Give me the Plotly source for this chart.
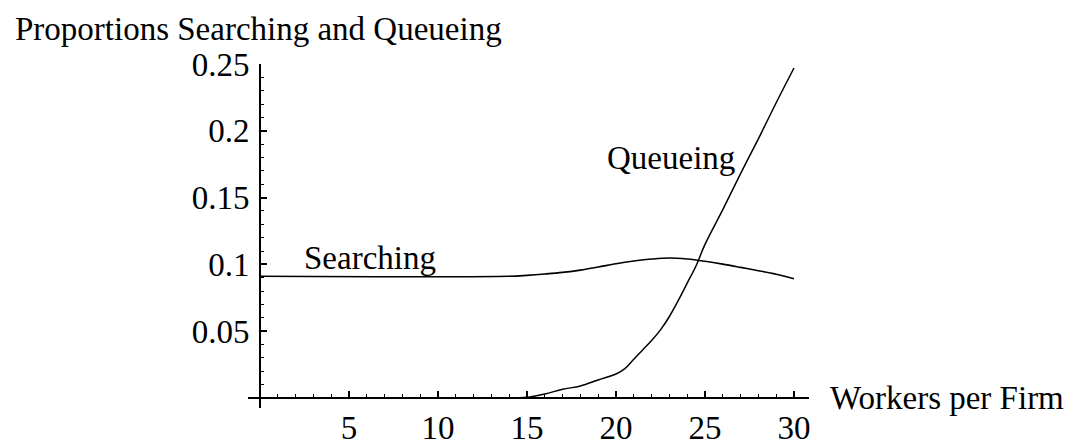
import plotly.graph_objects as go

# ---- data ----
searching_x = [0, 14, 15, 16, 17, 18, 19, 20, 21, 22, 23, 24, 25, 26, 27, 28, 29, 30]
searching_y = [0.0911, 0.0911, 0.0918, 0.0928, 0.0940, 0.0957, 0.0980, 0.1005, 0.1025,
               0.1040, 0.1048, 0.1040, 0.1023, 0.1002, 0.0978, 0.0953, 0.0926, 0.0893]

queueing_x = [13.3, 15, 16, 17, 18, 19, 20, 20.5, 21, 21.5, 22, 22.5, 23, 23.5, 24, 24.5,
              25, 26, 27, 28, 29, 30]
queueing_y = [0.0, 0.0005, 0.003, 0.0065, 0.009, 0.0135, 0.018, 0.022, 0.029, 0.036, 0.043,
              0.051, 0.061, 0.073, 0.086, 0.099, 0.115, 0.141, 0.168, 0.194, 0.221, 0.247]

x_tick_vals = [5, 10, 15, 20, 25, 30]
x_tick_text = ["5", "10", "15", "20", "25", "30"]
y_tick_vals = [0.05, 0.1, 0.15, 0.2, 0.25]
y_tick_text = ["0.05", "0.1", "0.15", "0.2", "0.25"]

title_text = "Proportions Searching and Queueing"
x_title = "Workers per Firm"
label_searching = "Searching"
label_queueing = "Queueing"

# ---- layout geometry (page body adds an 8px margin) ----
W, H = 1064, 438
ML, MR, MT, MB = 240, 263, 56, 38
X_RANGE = [-0.674, 30.843]
Y_RANGE = [-0.00749, 0.25]
plot_w = W - ML - MR
plot_h = H - MT - MB
x_pos = (0 - Y_RANGE[0]) / (Y_RANGE[1] - Y_RANGE[0])   # where y=0 sits in the plot area
y_pos = (0 - X_RANGE[0]) / (X_RANGE[1] - X_RANGE[0])   # where x=0 sits in the plot area

FONT = "Liberation Serif, Times New Roman, serif"
fs = 33

fig = go.Figure()
fig.add_trace(go.Scatter(x=searching_x, y=searching_y, mode="lines",
                         line=dict(color="black", width=1.6), line_shape="spline",
                         showlegend=False, hoverinfo="skip"))
fig.add_trace(go.Scatter(x=queueing_x, y=queueing_y, mode="lines",
                         line=dict(color="black", width=1.5), line_shape="spline",
                         showlegend=False, hoverinfo="skip"))

fig.update_layout(
    template="none",
    width=W, height=H,
    margin=dict(l=ML, r=MR, t=MT, b=MB, pad=0, autoexpand=False),
    paper_bgcolor="white", plot_bgcolor="white",
    font=dict(family=FONT, size=fs, color="black"),
    xaxis=dict(range=X_RANGE, anchor="free", position=x_pos, automargin=False,
               showline=True, linecolor="black", linewidth=2,
               showgrid=False, zeroline=False,
               tickmode="array", tickvals=x_tick_vals, ticktext=x_tick_text,
               ticks="inside", ticklen=6, tickwidth=1.6, tickcolor="black",
               minor=dict(dtick=1, tick0=0, ticks="inside", ticklen=3,
                          tickwidth=1.4, tickcolor="black", showgrid=False),
               tickfont=dict(family=FONT, size=fs, color="black")),
    yaxis=dict(range=Y_RANGE, anchor="free", position=y_pos, automargin=False,
               showline=True, linecolor="black", linewidth=2,
               showgrid=False, zeroline=False,
               tickmode="array", tickvals=y_tick_vals, ticktext=y_tick_text,
               ticks="inside", ticklen=6, tickwidth=1.6, tickcolor="black",
               ticklabelstandoff=3,
               minor=dict(dtick=0.01, tick0=0, ticks="inside", ticklen=3,
                          tickwidth=1.4, tickcolor="black", showgrid=False),
               tickfont=dict(family=FONT, size=fs, color="black")),
)

fig.add_annotation(text=title_text, xref="paper", yref="paper",
                   x=(6 - ML) / plot_w, y=(H - MB - 21) / plot_h,
                   xanchor="left", yanchor="middle", showarrow=False, borderpad=0,
                   font=dict(family=FONT, size=fs, color="black"))
fig.add_annotation(text=label_searching, xref="x", yref="y", x=2.36, y=0.105,
                   xanchor="left", yanchor="middle", showarrow=False,
                   font=dict(family=FONT, size=fs, color="black"))
fig.add_annotation(text=label_queueing, xref="x", yref="y", x=19.4, y=0.1797,
                   xanchor="left", yanchor="middle", showarrow=False,
                   font=dict(family=FONT, size=fs, color="black"))
fig.add_annotation(text=x_title, xref="x", yref="y", x=X_RANGE[1], y=0,
                   xshift=19, xanchor="left", yanchor="middle", showarrow=False,
                   font=dict(family=FONT, size=fs, color="black"))

fig.write_html("out.html")
